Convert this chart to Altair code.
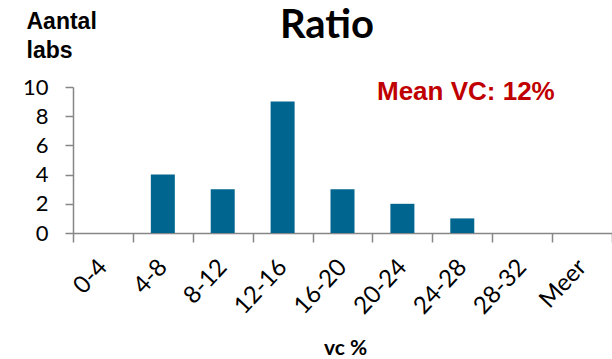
import altair as alt
import pandas as pd

categories = ["0-4", "4-8", "8-12", "12-16", "16-20", "20-24", "24-28", "28-32", "Meer"]
counts = [0, 4, 3, 9, 3, 2, 1, 0, 0]
y_ticks = [0, 2, 4, 6, 8, 10]
mean_vc = 12
title_text = "Ratio"
y_title = ["Aantal", "labs"]
x_title = "vc %"

df = pd.DataFrame({"cat": categories, "n": counts})
mean_df = pd.DataFrame({"label": [f"Mean VC: {mean_vc}%"]})
title_df = pd.DataFrame({"label": [title_text]})

BAR = "#00668F"
GRAY = "#868686"

bars = alt.Chart(df).mark_bar(size=24, color=BAR).encode(
    x=alt.X(
        "cat:N",
        sort=categories,
        scale=alt.Scale(paddingInner=0, paddingOuter=0),
        axis=alt.Axis(
            title=x_title,
            titleFont="Lato",
            titleFontSize=21,
            titleFontWeight="bold",
            titleBaseline="alphabetic",
            titleY=121,
            titleX=272,
            titleAnchor="middle",
            labelAngle=-47,
            labelAlign="right",
            labelBaseline="middle",
            labelFont="Lato",
            labelFontSize=24,
            labelColor="black",
            labelPadding=21,
            tickBand="extent",
            tickSize=9,
            tickColor=GRAY,
            tickWidth=1.5,
            domainColor=GRAY,
            domainWidth=1.5,
        ),
    ),
    y=alt.Y(
        "n:Q",
        scale=alt.Scale(domain=[0, 10]),
        axis=alt.Axis(
            values=y_ticks,
            grid=False,
            title=y_title,
            titleAngle=0,
            titleAlign="left",
            titleBaseline="top",
            titleFont="Liberation Sans",
            titleFontSize=23,
            titleFontWeight="bold",
            titleLineHeight=29,
            titleX=-47,
            titleY=-77,
            labelFont="Lato",
            labelFontSize=22,
            labelColor="black",
            labelPadding=17,
            tickSize=8,
            tickColor=GRAY,
            tickWidth=1.5,
            domainColor=GRAY,
            domainWidth=1.5,
        ),
    ),
)

mean_text = alt.Chart(mean_df).mark_text(
    font="Liberation Sans",
    fontSize=26,
    fontWeight="bold",
    color="#C00000",
    align="left",
    baseline="alphabetic",
).encode(
    text="label:N",
    x=alt.value(304),
    y=alt.value(13),
)

title_mark = alt.Chart(title_df).mark_text(
    font="Lato",
    fontSize=40,
    fontWeight="bold",
    color="black",
    align="center",
    baseline="alphabetic",
).encode(
    text="label:N",
    x=alt.value(254),
    y=alt.value(-49),
)

chart = alt.layer(bars, mean_text, title_mark).properties(
    width=539,
    height=146,
    autosize=alt.AutoSizeParams(type="none"),
    padding={"left": 73, "top": 87, "right": 0, "bottom": 126},
).configure_view(stroke=None)

chart.save("out.html", embed_options={"renderer": "svg", "actions": False})
